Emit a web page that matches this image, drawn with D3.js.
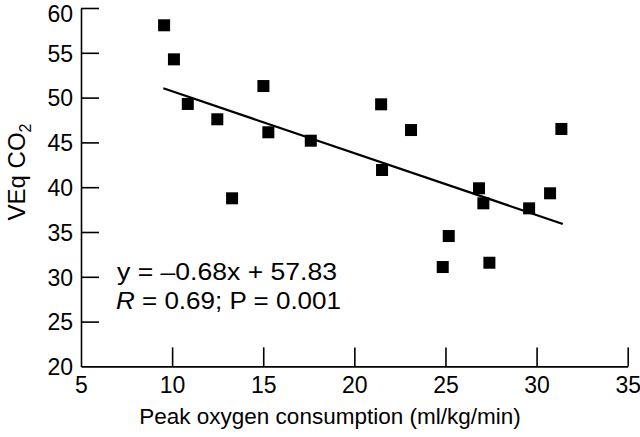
<!DOCTYPE html>
<html>
<head>
<meta charset="utf-8">
<script src="https://cdn.jsdelivr.net/npm/d3@7"></script>
<style>
  html, body { margin: 0; padding: 0; background: #fff; }
  svg { display: block; font-family: "Liberation Sans", Arial, Helvetica, sans-serif; }
</style>
</head>
<body>
<svg id="chart" width="640" height="437"></svg>
<script>
// Data
const peakVO2 = [9.56, 10.10, 10.86, 12.48, 15.01, 15.28, 17.61, 13.29, 21.47, 23.11,
                 21.52, 26.84, 27.08, 29.59, 30.74, 31.36, 25.18, 24.85, 27.41];
const veqCO2  = [58.07, 54.27, 49.29, 47.58, 51.29, 46.13, 45.19, 38.76, 49.25, 46.38,
                 41.92, 39.88, 38.20, 37.64, 39.32, 46.50, 34.55, 31.09, 31.57];
const fitLineX = [9.52, 31.44];
const fitLineY = [51.04, 35.9];
const xTicks = [5, 10, 15, 20, 25, 30, 35];
const yTicks = [20, 25, 30, 35, 40, 45, 50, 55, 60];
const xTitle = "Peak oxygen consumption (ml/kg/min)";
const eqLine1 = "y = \u20130.68x + 57.83";
const statsR = "R";
const statsRest = " = 0.69; P = 0.001";

const svg = d3.select("#chart");
const mLeft = 81, mTop = 8, mRight = 627.7, mBottom = 366.4;

const x = d3.scaleLinear().domain([5, 35]).range([mLeft, mRight]);
const y = d3.scaleLinear().domain([20, 60]).range([mBottom, mTop]);

// Y axis
const gy = svg.append("g").attr("transform", `translate(${mLeft},0)`)
  .call(d3.axisLeft(y).tickValues(yTicks).tickSizeInner(-18).tickSizeOuter(0).tickPadding(8));
gy.selectAll("text").attr("font-size", 23).attr("fill", "#000").attr("font-family", null)
  .attr("dy", d => d === 60 ? "0.58em" : "0.36em");
gy.select(".domain").attr("stroke-width", 1.6);
gy.selectAll(".tick line").attr("stroke-width", 1.6);
gy.selectAll(".tick").filter(d => d === 20).select("line").remove();

// X axis
const gx = svg.append("g").attr("transform", `translate(0,${mBottom})`)
  .call(d3.axisBottom(x).tickValues(xTicks).tickSizeInner(-19).tickSizeOuter(0).tickPadding(10));
gx.selectAll("text").attr("font-size", 23).attr("fill", "#000").attr("font-family", null);
gx.select(".domain").attr("stroke-width", 1.6);
gx.selectAll(".tick line").attr("stroke-width", 1.6);
gx.selectAll(".tick").filter(d => d === 5).select("line").remove();
svg.selectAll(".domain").attr("stroke", "#000");
svg.selectAll(".tick line").attr("stroke", "#000");

// Regression line
svg.append("line")
  .attr("x1", x(fitLineX[0])).attr("y1", y(fitLineY[0]))
  .attr("x2", x(fitLineX[1])).attr("y2", y(fitLineY[1]))
  .attr("stroke", "#000").attr("stroke-width", 2.2);

// Points
const sq = 12;
svg.append("g").selectAll("rect")
  .data(peakVO2.map((v, i) => [v, veqCO2[i]]))
  .join("rect")
  .attr("x", d => x(d[0]) - sq / 2)
  .attr("y", d => y(d[1]) - sq / 2)
  .attr("width", sq).attr("height", sq)
  .attr("fill", "#000");

// Equation text
svg.append("text").attr("x", 117).attr("y", 280)
  .attr("font-size", 24).attr("fill", "#000")
  .attr("textLength", 220).attr("lengthAdjust", "spacingAndGlyphs")
  .text(eqLine1);
const t2 = svg.append("text").attr("x", 116).attr("y", 309)
  .attr("font-size", 24).attr("fill", "#000")
  .attr("textLength", 225).attr("lengthAdjust", "spacingAndGlyphs");
t2.append("tspan").attr("font-style", "italic").text(statsR);
t2.append("tspan").text(statsRest);

// X title
svg.append("text").attr("x", (143 + 517) / 2).attr("y", 424)
  .attr("text-anchor", "middle").attr("font-size", 22.5).attr("fill", "#000")
  .text(xTitle);

// Y title: VEq CO2 (subscript 2)
const yt = svg.append("text")
  .attr("transform", "translate(25,172) rotate(-90)")
  .attr("text-anchor", "middle").attr("font-size", 24).attr("fill", "#000");
yt.append("tspan").text("VEq CO");
yt.append("tspan").attr("font-size", 16).attr("dy", 6).text("2");
</script>
</body>
</html>
